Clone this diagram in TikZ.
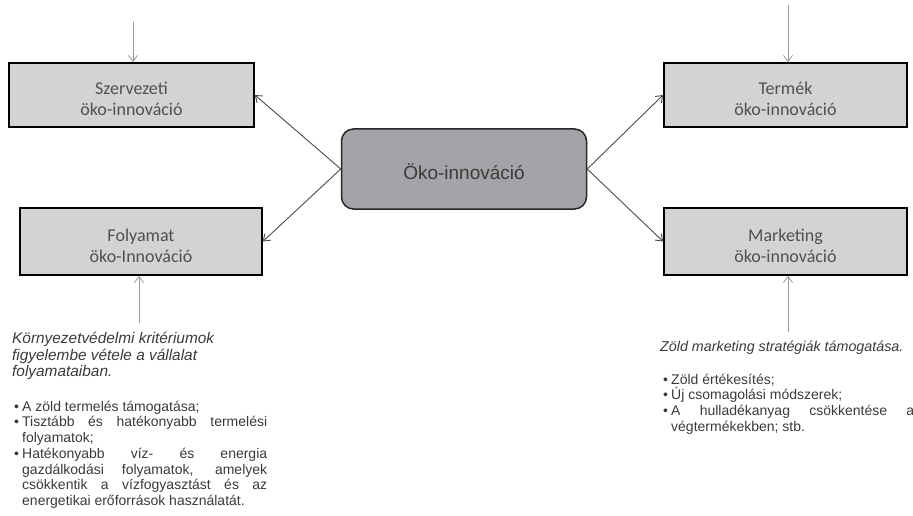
\documentclass[tikz,border=0pt]{standalone}
\usepackage{fontspec}
\setmainfont{Liberation Sans}
\newfontfamily\calib{Carlito}
\usetikzlibrary{arrows.meta}
\definecolor{txt}{HTML}{3A3A3A}
\definecolor{ltxt}{HTML}{505050}
\definecolor{boxfill}{HTML}{D3D3D3}
\definecolor{cfill}{HTML}{A4A4A8}
\definecolor{varrow}{HTML}{9A9A9A}
\definecolor{darrow}{HTML}{4A4A4A}
\newcommand\bul{\makebox[8pt][l]{•}}
\newcommand\ind{\hspace*{8pt}}
\newcommand\jl[1]{\makebox[245pt][s]{#1}}
\newcommand\jr[1]{\makebox[243pt][s]{#1}}
\newcommand\st{\rule{0pt}{11pt}}
\begin{document}
\begin{tikzpicture}[x=1pt,y=-1pt,
 box/.style={draw=black,line width=1.8pt,fill=boxfill,inner sep=0},
 boxlabel/.style={text=ltxt,font=\calib\fontsize{18}{21}\selectfont,align=center,inner sep=0},
 core/.style={draw=black!85,line width=1.5pt,fill=cfill,rounded corners=12pt,inner sep=0},
 corelabel/.style={text=txt,font=\fontsize{19}{22}\selectfont,inner sep=0},
 vin/.style={draw=varrow,line width=0.8pt,-{Straight Barb[length=6pt,width=9pt]}},
 din/.style={draw=darrow,line width=0.9pt,-{Straight Barb[length=6pt,width=9pt]}},
 note/.style={text=txt,align=left,inner sep=0,anchor=north west},
 itnote/.style={note,font=\itshape\fontsize{14.3}{16}\selectfont},
 bnote/.style={note,font=\fontsize{14}{15.7}\selectfont},
]
\useasboundingbox (0,0) rectangle (913,516);
\node[box,minimum width=245pt,minimum height=64pt] (sz) at (131.5,95) {};
\node[box,minimum width=243pt,minimum height=64pt] (tm) at (785.5,95) {};
\node[box,minimum width=242pt,minimum height=67pt] (fo) at (141,241.5) {};
\node[box,minimum width=243pt,minimum height=67pt] (mk) at (785.5,241.5) {};
\node[core,minimum width=245pt,minimum height=80pt] (c) at (464,169) {};

\node[boxlabel] (szl) at ([yshift=-4pt]sz.center) {Szervezeti\\öko-innováció};
\node[boxlabel] (tml) at ([yshift=-4pt]tm.center) {Termék\\öko-innováció};
\node[boxlabel] (fol) at ([yshift=-4pt]fo.center) {Folyamat\\öko-Innováció};
\node[boxlabel] (mkl) at ([yshift=-4pt]mk.center) {Marketing\\öko-innováció};
\node[corelabel] (cl) at ([yshift=-3pt]c.center) {Öko-innováció};

\coordinate (t1) at (133,22);
\coordinate (t2) at (788,5);
\coordinate (b1) at (139,323);
\coordinate (b2) at (788,332);
\draw[vin] (t1) -- (t1 |- sz.north);
\draw[vin] (t2) -- (t2 |- tm.north);
\draw[vin] (b1) -- (b1 |- fo.south);
\draw[vin] (b2) -- (b2 |- mk.south);

\draw[din] (c.west) -- (sz.east);
\draw[din] (c.west) -- (fo.east);
\draw[din] (c.east) -- (tm.west);
\draw[din] (c.east) -- (mk.west);

\node[itnote,font=\itshape\fontsize{15.4}{16.5}\selectfont] (n1) at (12,332) {\st Környezetvédelmi kritériumok\\\st figyelembe vétele a vállalat\\\st folyamataiban.};
\node[bnote] (n2) at (14,400) {\st\bul A zöld termelés támogatása;\\
\st\bul\jl{Tisztább és hatékonyabb termelési}\\
\st\ind folyamatok;\\
\st\bul\jl{Hatékonyabb víz- és energia}\\
\st\ind\jl{gazdálkodási folyamatok, amelyek}\\
\st\ind\jl{csökkentik a vízfogyasztást és az}\\
\st\ind energetikai erőforrások használatát.};

\node[itnote] (n3) at (660,340) {\st Zöld marketing stratégiák támogatása.};
\node[bnote] (n4) at (663,373) {\st\bul Zöld értékesítés;\\
\st\bul Új csomagolási módszerek;\\
\st\bul\jr{A hulladékanyag csökkentése a}\\
\st\ind végtermékekben; stb.};
\end{tikzpicture}
\end{document}
